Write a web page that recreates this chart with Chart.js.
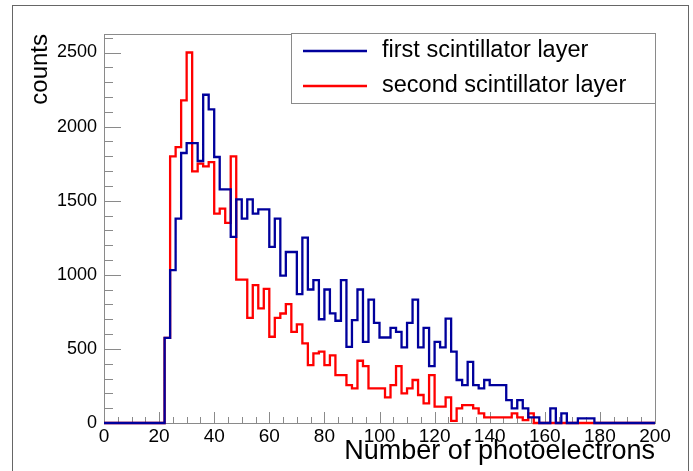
<!DOCTYPE html>
<html>
<head>
<meta charset="utf-8">
<script src="https://cdn.jsdelivr.net/npm/chart.js@4.4.0/dist/chart.umd.min.js"></script>
<style>
  html, body { margin: 0; padding: 0; background: #fff; }
  canvas { display: block; }
</style>
</head>
<body>
<canvas id="photoChart" width="693" height="471"></canvas>
<script>
// Datos del histograma: bins de ancho 2 empezando en 22
const binStart = 22;
const binWidth = 2;

const firstLayer = [
    575, 1031, 1379, 1822, 1889, 1889, 1768, 2215, 2116, 1795,
    1577, 1577, 1256, 1509, 1379, 1509, 1413, 1442, 1442, 1188,
    1379, 995, 1154, 1154, 869, 1251, 901, 964, 700, 901,
    740, 690, 964, 514, 694, 901, 548, 833, 676, 577,
    577, 642, 615, 510, 676, 833, 510, 642, 384, 548,
    510, 705, 481, 290, 256, 413, 256, 234, 290, 256,
    256, 256, 155, 99, 155, 99, 38, 38, 0, 0,
    99, 0, 65, 0, 0, 31, 31, 31, 0
];

const secondLayer = [
    575, 1799, 1862, 2177, 2500, 1698, 1750, 1732, 1761, 1413,
    1447, 1350, 1799, 968, 968, 710, 930, 773, 905, 582,
    710, 739, 802, 615, 665, 537, 391, 470, 481, 391,
    456, 323, 323, 256, 234, 420, 384, 234, 234, 234,
    173, 256, 384, 200, 234, 290, 189, 133, 323, 110,
    110, 173, 15, 99, 121, 121, 99, 65, 38, 38,
    38, 38, 38, 65, 38, 20, 65, 0, 0, 0,
    0, 0, 0, 0, 0, 0, 0, 0, 0
];

const seriesLabels = ["first scintillator layer", "second scintillator layer"];
const seriesColors = ["#00009c", "#ff0000"];

const xTicks = [0, 20, 40, 60, 80, 100, 120, 140, 160, 180, 200];
const yTicks = [0, 500, 1000, 1500, 2000, 2500];
const xRange = [0, 200];
const yRange = [0, 2625];

Chart.defaults.font.family = '"Liberation Sans", Arial, Helvetica, sans-serif';
Chart.defaults.color = "#000";

// Convierte las cuentas en puntos escalonados (borde izquierdo de cada bin)
function toPoints(values) {
    const points = [{ x: xRange[0], y: 0 }];
    values.forEach((v, i) => points.push({ x: binStart + i * binWidth, y: v }));
    points.push({ x: binStart + values.length * binWidth, y: 0 });
    points.push({ x: xRange[1], y: 0 });
    return points;
}

// Marco y marcas del eje al estilo ROOT (hacia dentro)
const rootFrame = {
    id: "rootFrame",
    beforeDatasetsDraw(chart) {
        const { ctx, chartArea: a, scales: { x, y } } = chart;
        ctx.save();
        ctx.strokeStyle = "#8a8a8a";
        ctx.lineWidth = 1;
        ctx.strokeRect(a.left + 0.5, a.top + 0.5, a.right - a.left, a.bottom - a.top);

        ctx.beginPath();
        for (let v = xRange[0]; v <= xRange[1]; v += 5) {
            const px = Math.round(x.getPixelForValue(v)) + 0.5;
            const len = v % 20 === 0 ? 11 : 6;
            ctx.moveTo(px, a.bottom);
            ctx.lineTo(px, a.bottom - len);
        }
        for (let v = yRange[0]; v <= yRange[1]; v += 100) {
            const py = Math.round(y.getPixelForValue(v)) + 0.5;
            const len = v % 500 === 0 ? 17 : 9;
            ctx.moveTo(a.left, py);
            ctx.lineTo(a.left + len, py);
        }
        ctx.stroke();
        ctx.restore();
    },
    afterDraw(chart) {
        const { ctx } = chart;
        ctx.save();
        // borde exterior del lienzo
        ctx.strokeStyle = "#666";
        ctx.lineWidth = 1;
        ctx.strokeRect(12.5, 5.5, 676, 480);

        // leyenda
        ctx.fillStyle = "#fff";
        ctx.fillRect(291, 33, 364, 70);
        ctx.strokeStyle = "#8a8a8a";
        ctx.strokeRect(291.5, 33.5, 364, 70);
        ctx.font = '23.5px "Liberation Sans", Arial, sans-serif';
        ctx.textBaseline = "middle";
        chart.data.datasets.forEach((ds, i) => {
            const yy = 51 + i * 35;
            ctx.strokeStyle = ds.borderColor;
            ctx.lineWidth = 2.5;
            ctx.beginPath();
            ctx.moveTo(303, yy);
            ctx.lineTo(367, yy);
            ctx.stroke();
            ctx.fillStyle = "#000";
            ctx.fillText(ds.label, 382, yy);
        });
        ctx.restore();
    }
};

function renderHistogram() {
    const ctx = document.getElementById("photoChart").getContext("2d");
    const series = [firstLayer, secondLayer];

    new Chart(ctx, {
        type: "line",
        data: {
            datasets: series.map((values, i) => ({
                label: seriesLabels[i],
                data: toPoints(values),
                borderColor: seriesColors[i],
                borderWidth: 2.3,
                stepped: true,
                pointRadius: 0,
                fill: false,
                clip: 4,
                borderJoinStyle: "miter",
                borderCapStyle: "butt"
            }))
        },
        options: {
            responsive: false,
            animation: false,
            devicePixelRatio: 1,
            layout: { padding: { top: 34, right: 38, left: 0, bottom: 0 } },
            plugins: {
                legend: { display: false },
                tooltip: { enabled: false }
            },
            scales: {
                x: {
                    type: "linear",
                    min: xRange[0],
                    max: xRange[1],
                    afterFit: s => { s.height = 48; },
                    afterBuildTicks: s => { s.ticks = xTicks.map(v => ({ value: v })); },
                    grid: { display: false, drawTicks: false },
                    border: { display: false },
                    ticks: {
                        autoSkip: false,
                        maxRotation: 0,
                        padding: 2,
                        font: { size: 19 },
                        callback: v => String(v)
                    },
                    title: {
                        display: true,
                        text: "Number of photoelectrons",
                        align: "end",
                        font: { size: 27 },
                        padding: { top: 0, bottom: 3 }
                    }
                },
                y: {
                    type: "linear",
                    min: yRange[0],
                    max: yRange[1],
                    afterFit: s => { s.width = 104; },
                    afterBuildTicks: s => { s.ticks = yTicks.map(v => ({ value: v })); },
                    grid: { display: false, drawTicks: false },
                    border: { display: false },
                    ticks: {
                        padding: 7,
                        font: { size: 18 },
                        callback: v => String(v)
                    },
                    title: {
                        display: true,
                        text: "counts",
                        align: "end",
                        font: { size: 24 },
                        padding: { top: 26, bottom: 0 }
                    }
                }
            }
        },
        plugins: [rootFrame]
    });
}

document.addEventListener("DOMContentLoaded", renderHistogram);
</script>
</body>
</html>
